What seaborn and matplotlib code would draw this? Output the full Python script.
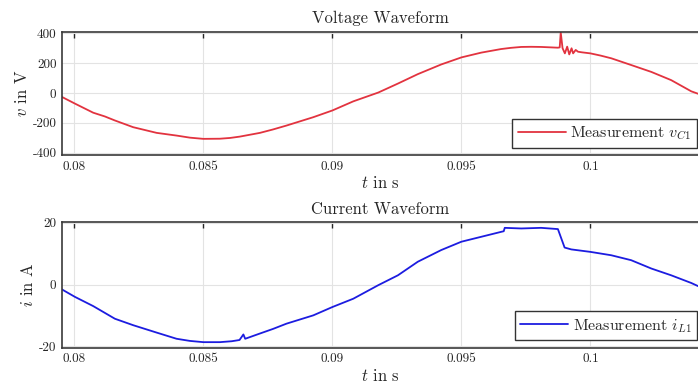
import matplotlib
matplotlib.use("Agg")
import matplotlib.pyplot as plt
import seaborn as sns
import pandas as pd

# ---- data ----
v_time = [0.07950, 0.08002, 0.08073, 0.08118, 0.08157, 0.08228, 0.08319, 0.08396,
          0.08448, 0.08500, 0.08564, 0.08603, 0.08641, 0.08719, 0.08770, 0.08822,
          0.08926, 0.09000, 0.09081, 0.09178, 0.09254, 0.09331, 0.09422, 0.09500,
          0.09577, 0.09654, 0.09692, 0.09732, 0.09770, 0.09809,
          0.09874, 0.09881, 0.09885, 0.09892, 0.09901, 0.09910, 0.09918, 0.09927,
          0.09933, 0.09943, 0.09952, 0.09967, 0.10000, 0.10040, 0.10081, 0.10158,
          0.10236, 0.10313, 0.10391, 0.10417]
v_vals = [-25, -71, -132, -157, -184, -229, -267, -285,
          -299, -307, -306, -301, -292, -267, -244, -218,
          -162, -117, -56, 3, 63, 126, 191, 238,
          270, 294, 302, 308, 309, 308,
          303, 305, 405, 300, 265, 310, 258, 299,
          265, 288, 276, 272, 265, 250, 232, 187,
          141, 86, 11, -5]

i_time = [0.07950, 0.08002, 0.08073, 0.08157, 0.08228, 0.08319, 0.08396, 0.08448,
          0.08500, 0.08564, 0.08610, 0.08640, 0.08655, 0.08662, 0.08719, 0.08770,
          0.08822, 0.08926, 0.09000, 0.09081, 0.09178, 0.09254, 0.09331, 0.09422,
          0.09500, 0.09577, 0.09654, 0.09664, 0.09668, 0.09732, 0.09809, 0.09874,
          0.09887, 0.09900, 0.09926, 0.10000, 0.10081, 0.10158, 0.10236, 0.10313,
          0.10391, 0.10417]
i_vals = [-1.5, -4.0, -7.0, -11.1, -13.2, -15.6, -17.6, -18.3,
          -18.7, -18.7, -18.4, -18.0, -16.2, -17.6, -15.9, -14.4,
          -12.7, -10.0, -7.3, -4.6, -0.2, 3.0, 7.4, 11.2,
          13.9, 15.5, 17.1, 17.3, 18.4, 18.2, 18.4, 18.0,
          15.0, 12.0, 11.4, 10.6, 9.5, 7.9, 5.2, 3.0,
          0.5, -0.5]

x_ticks = [0.08, 0.085, 0.09, 0.095, 0.1]
x_tick_labels = ["0.08", "0.085", "0.09", "0.095", "0.1"]
v_ticks = [-400, -200, 0, 200, 400]
i_ticks = [-20, 0, 20]

titles = ["Voltage Waveform", "Current Waveform"]
ylabels = [r"$v$ in V", r"$i$ in A"]
xlabel = r"$t$ in s"
legend_labels = [r"Measurement $v_{C1}$", r"Measurement $i_{L1}$"]

# ---- style ----
sns.set_style("white")
plt.rcParams["font.family"] = ["cmr10", "DejaVu Serif"]
plt.rcParams["mathtext.fontset"] = "cm"
plt.rcParams["axes.unicode_minus"] = False
plt.rcParams["axes.formatter.use_mathtext"] = False

fig = plt.figure(figsize=(6.98, 3.87), dpi=100)
ax1 = fig.add_axes([62 / 698, 1 - 155 / 387, 1 - 62 / 698, (155 - 31.7) / 387])
ax2 = fig.add_axes([62 / 698, 1 - 347.7 / 387, 1 - 62 / 698, (347.7 - 222.3) / 387])

dfv = pd.DataFrame({"t": v_time, "v": v_vals})
dfi = pd.DataFrame({"t": i_time, "i": i_vals})

sns.lineplot(data=dfv, x="t", y="v", ax=ax1, color="#e2333f", lw=1.3,
             label=legend_labels[0])
sns.lineplot(data=dfi, x="t", y="i", ax=ax2, color="#1c1ce0", lw=1.3,
             label=legend_labels[1])

for ax, title, yl, yt, ylim in [
    (ax1, titles[0], ylabels[0], v_ticks, (-415, 410)),
    (ax2, titles[1], ylabels[1], i_ticks, (-20.5, 20.2)),
]:
    ax.set_xlim(0.07952, 0.10417)
    ax.set_ylim(*ylim)
    ax.set_xticks(x_ticks)
    ax.set_xticklabels(x_tick_labels)
    ax.set_yticks(yt)
    ax.set_yticklabels([str(v) for v in yt])
    ax.grid(True, color="#e3e3e3", lw=0.8)
    ax.set_axisbelow(True)
    ax.tick_params(direction="in", length=4, width=1.0, labelsize=9.5,
                   top=True, right=False, colors="#262626", pad=4)
    for s in ax.spines.values():
        s.set_color("#3a3a3a")
        s.set_linewidth(1.2)
    ax.spines["right"].set_visible(False)
    ax.set_title(title, fontsize=12, pad=6)
    ax.set_xlabel(xlabel, fontsize=12, labelpad=2)
    ax.set_ylabel(yl, fontsize=12, labelpad=2)
    leg = ax.legend(loc="lower right", bbox_to_anchor=(0.999, 0.06), borderaxespad=0,
                    fancybox=False, framealpha=1, edgecolor="#333333",
                    fontsize=11.5, handlelength=3.0, handletextpad=0.3,
                    borderpad=0.35)
    leg.get_frame().set_linewidth(1.0)

fig.savefig("out.png", dpi=100)
